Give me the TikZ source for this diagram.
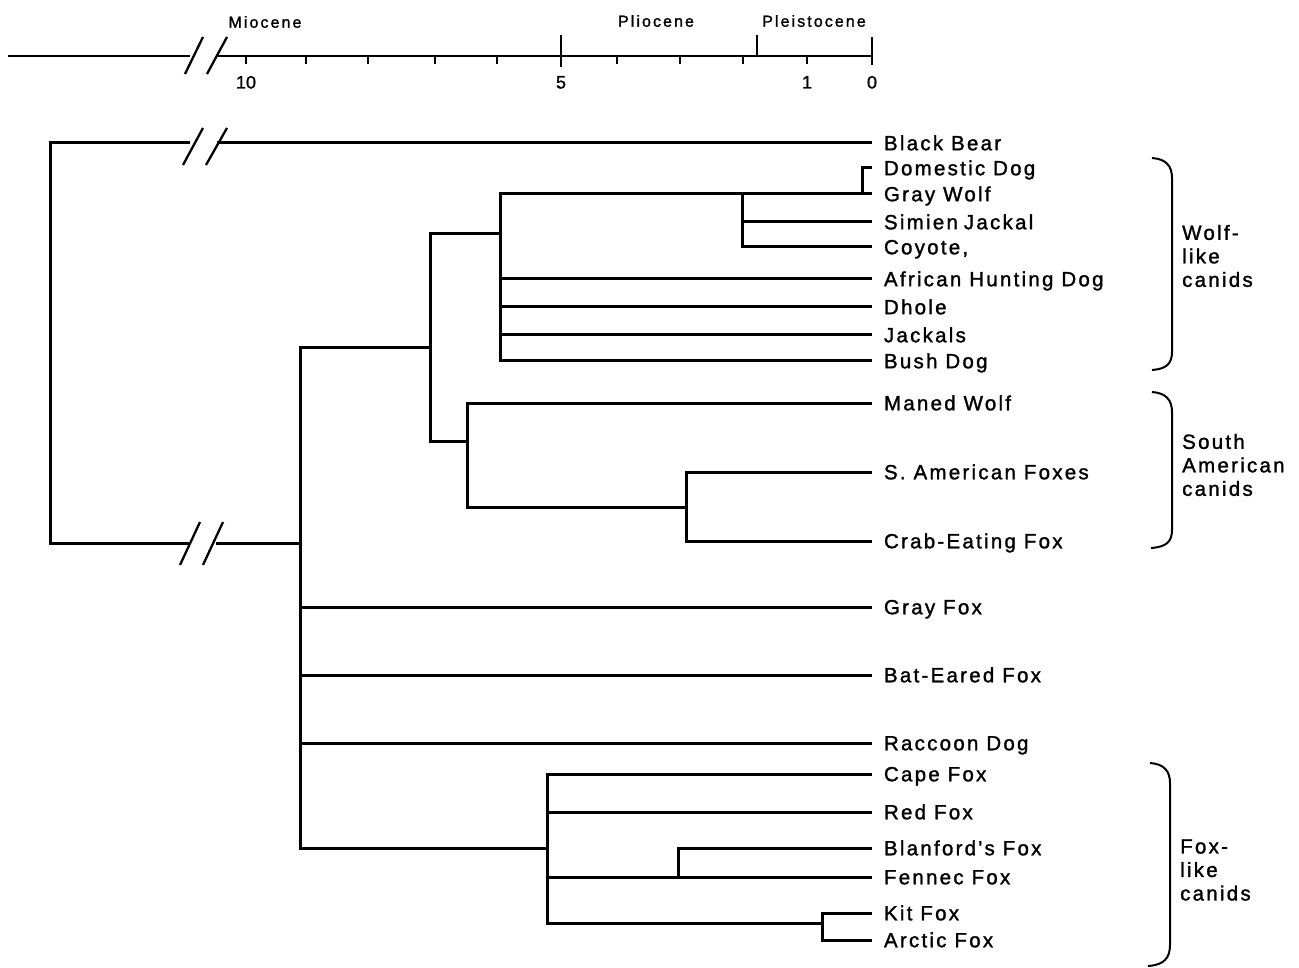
\documentclass[tikz,border=0pt]{standalone}
\usepackage{fontspec}
\setmainfont{Liberation Sans}[FakeBold=0.7]
\newfontfamily\lblfont[LetterSpace=11,FakeBold=1.4]{Liberation Sans}
\newfontfamily\epochfont[LetterSpace=13,FakeBold=1.4]{Liberation Sans}
\newfontfamily\numfont[FakeBold=1.4]{Liberation Sans}
\begin{document}
\begin{tikzpicture}[x=1pt,y=-1pt,
  branch/.style={line width=3pt},
  axisline/.style={line width=2.5pt},
  slash/.style={line width=2.3pt},
  brace/.style={line width=2pt},
  leaf/.style={anchor=west, inner sep=0pt, outer xsep=12pt, outer ysep=0pt,
    text height=14.5pt, text depth=0pt, font=\lblfont\fontsize{20.5}{24}\selectfont},
  grouplbl/.style={anchor=west, align=left, inner sep=0pt,
    font=\lblfont\fontsize{20.5}{23.5}\selectfont},
  epoch/.style={inner sep=0pt, text height=11.5pt, text depth=0pt, font=\epochfont\fontsize{16}{18}\selectfont},
  tickno/.style={inner sep=0pt, text height=13pt, text depth=0pt, font=\numfont\fontsize{18}{20}\selectfont}
]
\useasboundingbox (0,0) rectangle (1299,968);
\fill[white] (0,0) rectangle (1299,968);

% ---------- time axis ----------
\coordinate (ax0) at (8,56);
\coordinate (axL) at (190,56);
\coordinate (axR) at (217,56);
\coordinate (axE) at (872,56);
\draw[axisline] (ax0) -- (axL);
\draw[axisline] (axR) -- (axE);
\draw[slash] (185,74) -- (203,37);
\draw[slash] (207,74) -- (227,37);
\foreach \x in {246,306,368,435,497,617,680,743,807}
  \draw[axisline] (\x,56) -- (\x,64);
\draw[axisline] (561,35) -- (561,67);
\draw[axisline] (757,35) -- (757,56);
\draw[axisline] (872,37) -- (872,65);
\node[epoch] (mio) at (265,22) {Miocene};
\node[epoch] (plio) at (656,21) {Pliocene};
\node[epoch] (pleis) at (814,21) {Pleistocene};
\node[tickno] (t10) at (246,82) {10};
\node[tickno] (t5) at (561,82) {5};
\node[tickno] (t1) at (807,82) {1};
\node[tickno] (t0) at (872,82) {0};

% ---------- leaves ----------
\node[leaf] (bear)  at (872,143) {Black Bear};
\node[leaf] (ddog)  at (872,168) {Domestic Dog};
\node[leaf] (gwolf) at (872,194) {Gray Wolf};
\node[leaf] (sjack) at (872,222) {Simien\hspace{6pt}Jackal};
\node[leaf] (coy)   at (872,247) {Coyote,};
\node[leaf] (ahd)   at (872,279) {African Hunting Dog};
\node[leaf] (dhole) at (872,307) {Dhole};
\node[leaf] (jack)  at (872,335) {Jackals};
\node[leaf] (bush)  at (872,361) {Bush Dog};
\node[leaf] (mwolf) at (872,403) {Maned Wolf};
\node[leaf] (samf)  at (872,472) {S. American Foxes};
\node[leaf] (crab)  at (872,541) {Crab-Eating Fox};
\node[leaf] (gfox)  at (872,607) {Gray Fox};
\node[leaf] (bat)   at (872,675) {Bat-Eared Fox};
\node[leaf] (racc)  at (872,743) {Raccoon Dog};
\node[leaf] (cape)  at (872,774) {Cape Fox};
\node[leaf] (red)   at (872,812) {Red Fox};
\node[leaf] (blan)  at (872,848) {Blanford's Fox};
\node[leaf] (fenn)  at (872,877) {Fennec Fox};
\node[leaf] (kit)   at (872,913) {Kit Fox};
\node[leaf] (arc)   at (872,940) {Arctic Fox};

% ---------- internal points ----------
\coordinate (root)  at (50,343);
\coordinate (bbL)   at (190,143);
\coordinate (bbR)   at (217,143);
\coordinate (rtL)   at (190,543);
\coordinate (rtR)   at (216,543);
\coordinate (canid) at (300,543);
\coordinate (wsa)   at (430,348);
\coordinate (wolf)  at (500,234);
\coordinate (wj)    at (742,194);
\coordinate (dw)    at (862,194);
\coordinate (sa)    at (467,441);
\coordinate (saf)   at (686,507);
\coordinate (fox)   at (547,848);
\coordinate (bf)    at (678,877);
\coordinate (ka)    at (822,923);

% ---------- branches ----------
\draw[branch] (root) |- (bbL);
\draw[branch] (bbR) -- (bear);
\draw[branch] (root) |- (rtL);
\draw[branch] (rtR) -- (canid);
\draw[slash] (183,165) -- (203,128);
\draw[slash] (206,165) -- (227,128);
\draw[slash] (180,565) -- (200,522);
\draw[slash] (203,565) -- (223,522);

\draw[branch] (canid) |- (wsa);
\draw[branch] (canid) |- (gfox);
\draw[branch] (canid) |- (bat);
\draw[branch] (canid) |- (racc);
\draw[branch] (canid) |- (fox);

\draw[branch] (wsa) |- (wolf);
\draw[branch] (wsa) |- (sa);

\draw[branch] (wolf) |- (wj);
\draw[branch] (wolf) |- (ahd);
\draw[branch] (wolf) |- (dhole);
\draw[branch] (wolf) |- (jack);
\draw[branch] (wolf) |- (bush);
\draw[branch] (wj) -- (dw);
\draw[branch] (wj) |- (sjack);
\draw[branch] (wj) |- (coy);
\draw[branch] (dw) |- (ddog);
\draw[branch] (dw) -- (gwolf);

\draw[branch] (sa) |- (mwolf);
\draw[branch] (sa) |- (saf);
\draw[branch] (saf) |- (samf);
\draw[branch] (saf) |- (crab);

\draw[branch] (fox) |- (cape);
\draw[branch] (fox) |- (red);
\draw[branch] (fox) |- (bf);
\draw[branch] (bf) -- (fenn);
\draw[branch] (bf) |- (blan);
\draw[branch] (fox) |- (ka);
\draw[branch] (ka) |- (kit);
\draw[branch] (ka) |- (arc);

% ---------- braces ----------
\draw[brace] (1152,158) .. controls (1166,159) and (1172,166) .. (1172,178)
  -- (1172,352) .. controls (1172,364) and (1166,369) .. (1152,370);
\draw[brace] (1152,392) .. controls (1166,393) and (1172,400) .. (1172,412)
  -- (1172,530) .. controls (1172,542) and (1166,547) .. (1151,548);
\draw[brace] (1150,763) .. controls (1164,764) and (1170,771) .. (1170,783)
  -- (1170,945) .. controls (1170,958) and (1164,965) .. (1148,966);

\node[grouplbl] (wolflike) at (1182,256) {Wolf-\\like\\canids};
\node[grouplbl] (samer)    at (1182,465) {South\\American\\canids};
\node[grouplbl] (foxlike)  at (1180,870) {Fox-\\like\\canids};
\end{tikzpicture}
\end{document}
